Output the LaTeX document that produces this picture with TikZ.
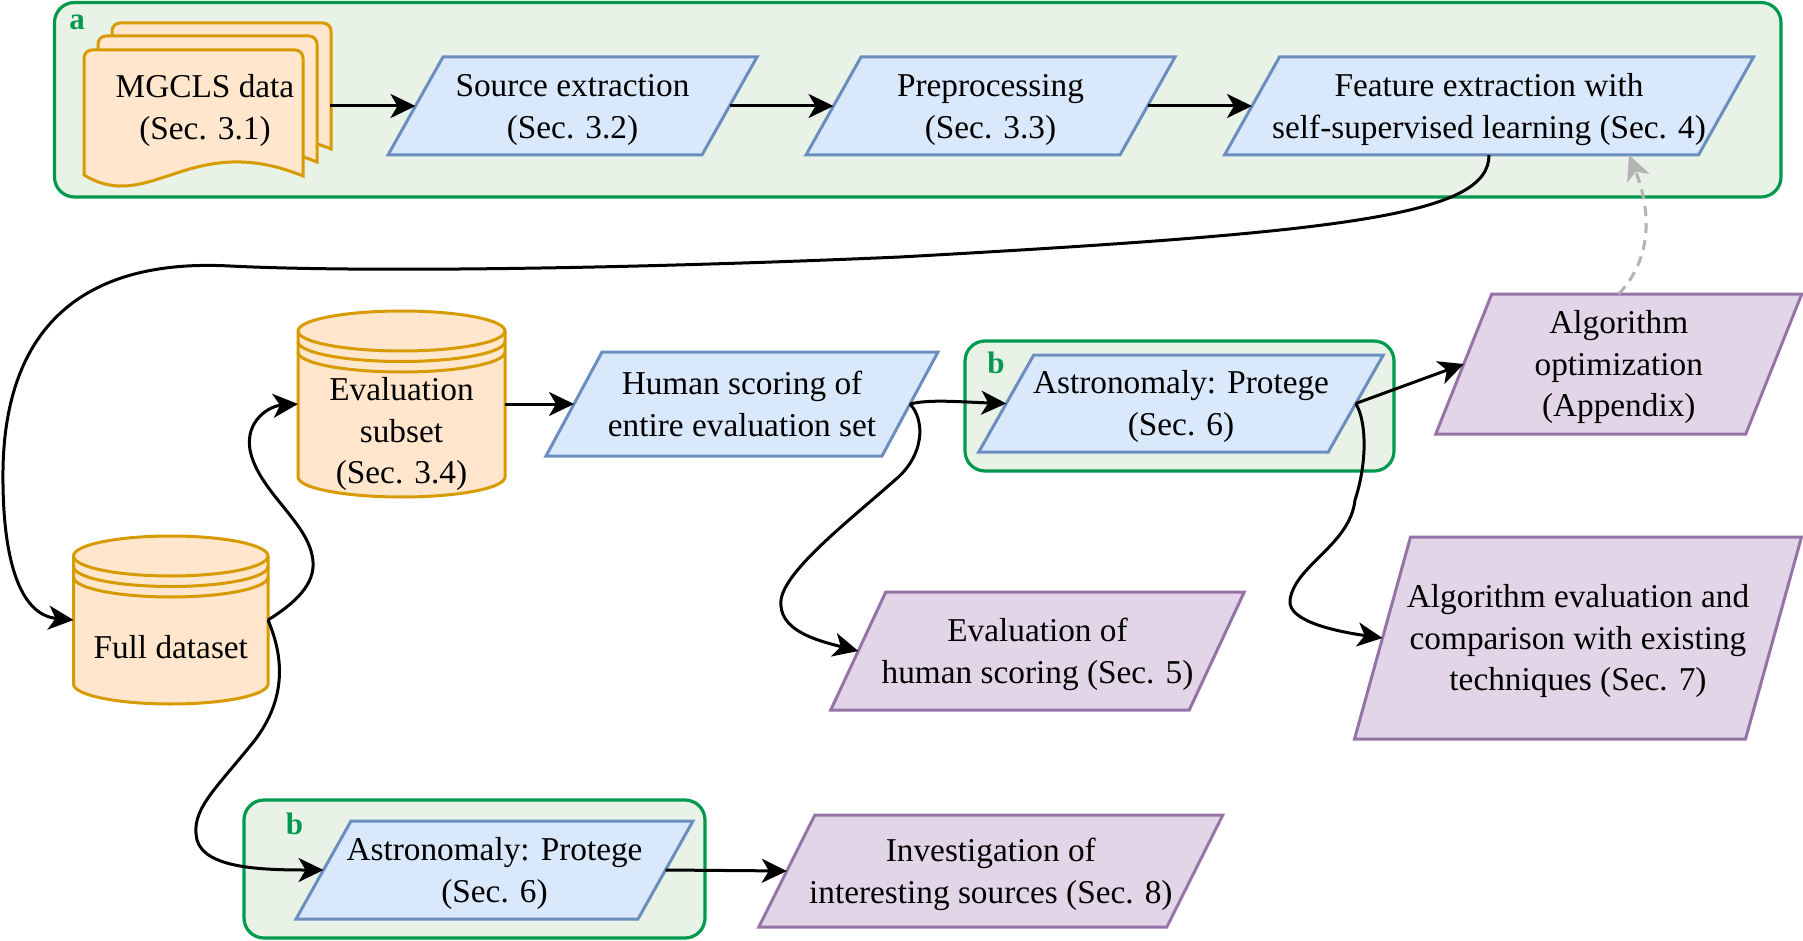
\documentclass[tikz,border=0pt]{standalone}
\usepackage{fontspec}
\setmainfont{Liberation Serif}
\usetikzlibrary{arrows.meta,calc}
\definecolor{blueF}{HTML}{DAE8FC}
\definecolor{blueD}{HTML}{6C8EBF}
\definecolor{purF}{HTML}{E1D5E7}
\definecolor{purD}{HTML}{9673A6}
\definecolor{orF}{HTML}{FFE6CC}
\definecolor{orD}{HTML}{D79B00}
\definecolor{grF}{HTML}{E8F2E7}
\definecolor{grD}{HTML}{00994D}
\definecolor{dashG}{HTML}{B3B3B3}
% line strut: height+depth = line spacing
\newcommand\mys{\rule[-9.6pt]{0pt}{41.7pt}}
% #1 name, #2 cx, #3 cy, #4 edge width, #5 height, #6 skew, #7 style, #8 text
\newcommand\myparabox[8]{%
  \filldraw[#7] ({#2-#4/2-#6/2},{#3+#5/2}) -- ++({#6},{-#5}) -- ++({#4},0) -- ++({-#6},{#5}) -- cycle;
  \node[txt, minimum width=#4pt, minimum height=#5pt] (#1) at (#2,#3) {#8};
}
% #1 name, #2 cx, #3 cy, #4 width, #5 height
\newcommand\mycylbox[5]{%
  \pgfmathsetmacro\mycxl{#2-#4/2}\pgfmathsetmacro\mycxr{#2+#4/2}%
  \pgfmathsetmacro\mycyt{#3-#5/2}\pgfmathsetmacro\mycyb{#3+#5/2}%
  \pgfmathsetmacro\mycrx{#4/2}%
  \filldraw[cylst] (\mycxl,\mycyt+20) arc[start angle=180,end angle=0,x radius=\mycrx pt,y radius=20pt]
     -- (\mycxr,\mycyb-20) arc[start angle=0,end angle=-180,x radius=\mycrx pt,y radius=20pt] -- cycle;
  \foreach \myk in {0,10.5,21}{%
    \draw[cylst,fill=none] (\mycxl,\mycyt+20+\myk) arc[start angle=180,end angle=360,x radius=\mycrx pt,y radius=20pt];}
  \node[inner sep=0pt, outer sep=0pt, minimum width=#4pt, minimum height=#5pt] (#1) at (#2,#3) {};
}
\begin{document}
\begin{tikzpicture}[x=1pt,y=-1pt,
  txt/.style={align=center, font=\fontsize{33.3}{41.7}\selectfont, inner sep=0pt, outer sep=0pt, text=black},
  bluest/.style={fill=blueF, draw=blueD, line width=3pt},
  purst/.style={fill=purF, draw=purD, line width=3pt},
  cylst/.style={fill=orF, draw=orD, line width=3pt},
  docst/.style={fill=orF, draw=orD, line width=3pt},
  group/.style={fill=grF, draw=grD, line width=3.2pt, rounded corners=20pt, inner sep=0pt, outer sep=0pt},
  glabel/.style={text=grD, font=\fontsize{31}{33}\selectfont\bfseries, inner sep=0pt},
  arr/.style={line width=3pt, -{Stealth[length=25pt,width=24pt,inset=7pt]}},
  dasharr/.style={line width=3pt, draw=dashG, dash pattern=on 10pt off 7pt,
     -{Stealth[length=25pt,width=24pt,inset=7pt,fill=dashG,sep=0pt]}}
]
\useasboundingbox (0,0) rectangle (1803,941);
\fill[white] (0,0) rectangle (1803,941);

% group boxes
\node[group, minimum width=1726.5pt, minimum height=194.5pt] (grpA) at (917.75,99.75) {};
\node[group, minimum width=429pt, minimum height=130pt] (grpB1) at (1179.5,406) {};
\node[group, minimum width=461pt, minimum height=138pt] (grpB2) at (474.5,869) {};
\node[glabel] (labA) at (77,22) {a};
\node[glabel] (labB1) at (996,363) {b};
\node[glabel] (labB2) at (294.5,824) {b};

% MGCLS document stack
\foreach \ox/\oy in {28/-27,14/-14,0/0}{%
  \filldraw[docst, shift={(\ox,\oy)}] (84,175) -- (84,58) arc[start angle=180,end angle=90,radius=8pt]
    -- (295,50) arc[start angle=90,end angle=0,radius=8pt] -- (303,176)
    .. controls (190,130) and (150,215) .. (84,175) -- cycle;}
\node[txt, minimum width=250pt, minimum height=150pt] (mgcls) at (205,107) {MGCLS data\mys\\(Sec. 3.1)\mys};

% parallelograms
\myparabox{src}{572.5}{106}{314}{98}{55}{bluest}{Source extraction\mys\\(Sec. 3.2)\mys}
\myparabox{pre}{990.5}{106}{314}{98}{55}{bluest}{Preprocessing\mys\\(Sec. 3.3)\mys}
\myparabox{feat}{1489}{106}{474}{98}{55}{bluest}{Feature extraction with\mys\\self-supervised learning (Sec. 4)\mys}
\myparabox{human}{742}{404}{336}{104}{56}{bluest}{Human scoring of\mys\\entire evaluation set\mys}
\myparabox{astroT}{1181}{403.5}{349.5}{97}{55}{bluest}{Astronomaly: Protege\mys\\(Sec. 6)\mys}
\myparabox{astroB}{494.5}{870}{342}{98}{55}{bluest}{Astronomaly: Protege\mys\\(Sec. 6)\mys}
\myparabox{algopt}{1618.75}{364}{310}{140}{56}{purst}{Algorithm\mys\\optimization\mys\\(Appendix)\mys}
\myparabox{algeval}{1578}{638}{391}{202}{56}{purst}{Algorithm evaluation and\mys\\comparison with existing\mys\\techniques (Sec. 7)\mys}
\myparabox{evalhum}{1037.5}{651}{358.5}{118}{55}{purst}{Evaluation of\mys\\human scoring (Sec. 5)\mys}
\myparabox{invest}{990.8}{871}{408}{112}{56}{purst}{Investigation of\mys\\interesting sources (Sec. 8)\mys}

% cylinders
\mycylbox{full}{170.75}{620}{194.5}{168}
\node[txt] (fulltxt) at (170.75,647) {Full dataset\mys};
\mycylbox{evalsub}{401.5}{404}{207}{186}
\node[txt] (evalsubtxt) at (401.5,431) {Evaluation\mys\\subset\mys\\(Sec. 3.4)\mys};

% connectors
\draw[arr] (mgcls.east |- src.west) -- (src.west);
\draw[arr] (src.east) -- (pre.west);
\draw[arr] (pre.east) -- (feat.west);
\draw[arr] (feat.south) .. controls (1489,215) and (1350,232) .. (900,257)
   .. controls (600,270) and (350,272) .. (230,266)
   .. controls (80,258) and (5,330) .. (3,470)
   .. controls (2,560) and (20,615) .. (full.west);
\draw[arr] (full.east) .. controls (300,600) and (318,580) .. (312,555)
   .. controls (305,520) and (258,490) .. (250,450)
   .. controls (245,420) and (270,406) .. (evalsub.west);
\draw[arr] (full.east) .. controls (285,660) and (285,700) .. (255,740)
   .. controls (215,790) and (190,810) .. (197,840)
   .. controls (205,868) and (260,870) .. (astroB.west);
\draw[arr] (evalsub.east) -- (human.west);
\draw[arr] (human.east) .. controls (930,399) and (960,402) .. (astroT.west);
\draw[arr] (human.east) .. controls (925,420) and (925,455) .. (895,480)
   .. controls (850,520) and (785,570) .. (781,600)
   .. controls (778,630) and (815,640) .. (evalhum.west);
\draw[arr] (astroT.east) -- (algopt.west);
\draw[arr] (astroT.east) .. controls (1366,420) and (1368,460) .. (1355,500)
   .. controls (1350,545) and (1295,565) .. (1290,600)
   .. controls (1287,622) and (1340,632) .. (algeval.west);
\draw[arr] (astroB.east) -- (invest.west);
\draw[dasharr] (algopt.north) .. controls (1660,250) and (1645,195) .. ([xshift=140pt]feat.south);
\end{tikzpicture}
\end{document}
